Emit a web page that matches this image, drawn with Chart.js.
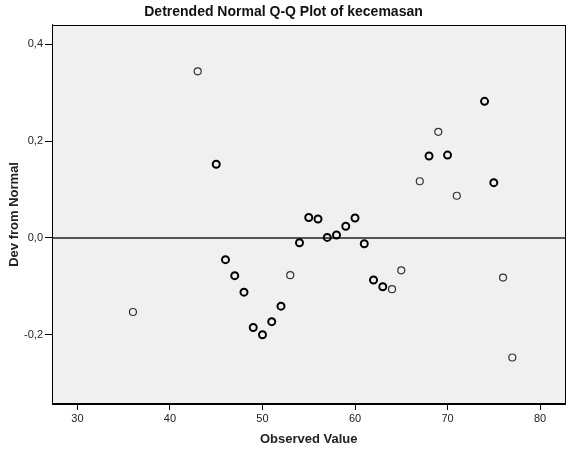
<!DOCTYPE html>
<html>
<head>
<meta charset="utf-8">
<script src="https://cdn.jsdelivr.net/npm/chart.js@4/dist/chart.umd.min.js"></script>
<style>
  html, body { margin: 0; padding: 0; background: #fff; }
  #wrap { width: 571px; height: 450px; }
</style>
</head>
<body>
<div id="wrap"><canvas id="qqChart" width="571" height="450"></canvas></div>
<script>
// observed values (kecemasan) and their deviation from normal
var observed = [36, 43, 45, 46, 47, 48, 49, 50, 51, 52, 53, 54, 55, 56, 57, 58,
                59, 60, 61, 62, 63, 64, 65, 67, 68, 69, 70, 71, 74, 75, 76, 77];
var devFromNormal = [-0.153, 0.344, 0.152, -0.045, -0.078, -0.112, -0.185, -0.200,
                     -0.173, -0.141, -0.077, -0.010, 0.042, 0.039, 0.001, 0.006,
                     0.024, 0.041, -0.012, -0.087, -0.101, -0.106, -0.067, 0.117,
                     0.169, 0.219, 0.171, 0.087, 0.282, 0.114, -0.082, -0.247];
// how many cases share each observed value (ties are drawn on top of each other)
var caseCount = [1, 1, 2, 2, 2, 2, 2, 2, 2, 2, 1, 2, 2, 2, 2, 2,
                 2, 2, 2, 2, 2, 1, 1, 1, 2, 1, 2, 1, 2, 2, 1, 1];

var xTicks = [30, 40, 50, 60, 70, 80];
var yTicks = [-0.2, 0.0, 0.2, 0.4];

var FONT = "'Liberation Sans', Arial, sans-serif";

var points = observed.map(function (v, i) {
    return { x: v, y: devFromNormal[i] };
});

// gray plot background, frame and the zero reference line
var plotFrame = {
    id: 'plotFrame',
    beforeDatasetsDraw: function (chart) {
        var ctx = chart.ctx, a = chart.chartArea;
        ctx.save();
        ctx.fillStyle = '#f0f0f0';
        ctx.fillRect(a.left, a.top, a.right - a.left, a.bottom - a.top);
        var y0 = Math.round(chart.scales.y.getPixelForValue(0));
        ctx.strokeStyle = '#555';
        ctx.lineWidth = 2;
        ctx.beginPath();
        ctx.moveTo(a.left, y0);
        ctx.lineTo(a.right, y0);
        ctx.stroke();
        ctx.restore();
    },
    afterDraw: function (chart) {
        var ctx = chart.ctx, a = chart.chartArea;
        ctx.save();
        ctx.strokeStyle = '#000';
        ctx.lineWidth = 1;
        ctx.strokeRect(Math.round(a.left) + 0.5, Math.round(a.top) + 0.5,
                       Math.round(a.right - a.left) - 1, Math.round(a.bottom - a.top) - 1);
        ctx.restore();
    }
};

new Chart(document.getElementById('qqChart'), {
    type: 'scatter',
    data: {
        datasets: [{
            data: points,
            pointStyle: 'circle',
            pointRadius: 3.5,
            pointHoverRadius: 3.5,
            pointBackgroundColor: 'transparent',
            pointBorderColor: caseCount.map(function (c) { return c > 1 ? '#000' : '#333'; }),
            pointBorderWidth: caseCount.map(function (c) { return c > 1 ? 2 : 1.2; })
        }]
    },
    options: {
        responsive: false,
        animation: false,
        layout: { padding: { left: 0, right: 4, top: 0, bottom: 0 } },
        plugins: {
            legend: { display: false },
            tooltip: { enabled: false },
            title: {
                display: true,
                text: 'Detrended Normal Q-Q Plot of kecemasan',
                color: '#111',
                font: { family: FONT, size: 14, weight: 'bold' },
                padding: { top: 4, bottom: 4 }
            }
        },
        scales: {
            x: {
                type: 'linear',
                min: 27.25,
                max: 82.75,
                afterBuildTicks: function (s) {
                    s.ticks = xTicks.map(function (v) { return { value: v }; });
                },
                afterFit: function (s) { s.height = 46; },
                grid: { drawOnChartArea: false, drawTicks: true, tickLength: 6, tickColor: '#000' },
                border: { display: true, color: '#000' },
                ticks: {
                    color: '#222',
                    padding: 2,
                    maxRotation: 0,
                    font: { family: FONT, size: 11 }
                },
                title: {
                    display: true,
                    text: 'Observed Value',
                    color: '#222',
                    font: { family: FONT, size: 13, weight: 'bold' },
                    padding: { top: 0, bottom: 3 }
                }
            },
            y: {
                type: 'linear',
                min: -0.343,
                max: 0.44,
                afterBuildTicks: function (s) {
                    s.ticks = yTicks.map(function (v) { return { value: v }; });
                },
                afterFit: function (s) { s.width = 52; },
                grid: { drawOnChartArea: false, drawTicks: true, tickLength: 7, tickColor: '#000' },
                border: { display: true, color: '#000' },
                ticks: {
                    color: '#222',
                    padding: 2,
                    font: { family: FONT, size: 11 },
                    callback: function (v) { return v.toFixed(1).replace('.', ','); }
                },
                title: {
                    display: true,
                    text: 'Dev from Normal',
                    color: '#222',
                    font: { family: FONT, size: 13, weight: 'bold' },
                    padding: { top: 7, bottom: 0 }
                }
            }
        }
    },
    plugins: [plotFrame]
});
</script>
</body>
</html>
